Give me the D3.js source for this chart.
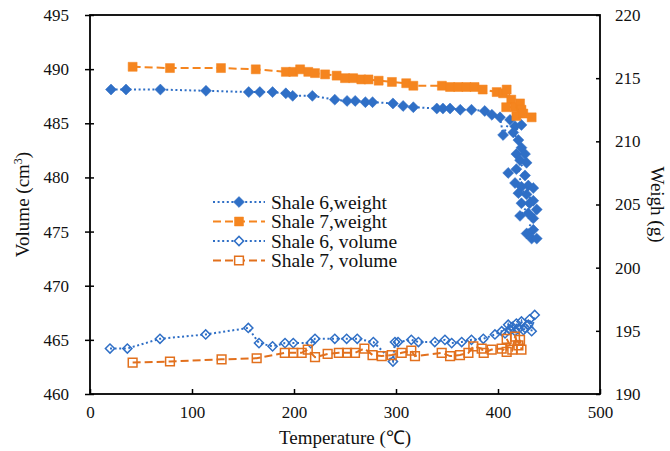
<!DOCTYPE html>
<html>
<head>
<meta charset="utf-8">
<script src="https://cdn.jsdelivr.net/npm/d3@7"></script>
<style>
  body { margin: 0; background: #fff; }
  svg { display: block; }
  text { font-family: "Liberation Serif", "Times New Roman", serif; fill: #111; }
</style>
</head>
<body>
<div id="chart"></div>
<script>
// temperature (°C) and weight (g) for shale 6
const shale6WeightT = [20.6, 35.3, 69, 113.7, 155.6, 166.5, 179, 192, 198.7, 218, 240, 252, 260, 270, 277, 297, 307, 317, 340, 346, 353, 363, 374, 387, 394, 402, 405, 411.8, 416.7, 423, 415, 420, 423, 418, 426.5, 421.6, 428, 410, 418, 426.5, 416.7, 423, 429.7, 434.6, 420, 428, 434.6, 423, 431, 421.6, 429.7, 434.6, 438, 428, 434.6, 433, 438];
const shale6WeightG = [214.1, 214.1, 214.1, 214.0, 213.9, 213.9, 213.9, 213.8, 213.6, 213.6, 213.3, 213.2, 213.2, 213.1, 213.1, 213.0, 212.8, 212.7, 212.6, 212.6, 212.6, 212.5, 212.5, 212.4, 212.1, 211.9, 210.5, 211.7, 211.2, 211.3, 210.7, 210.1, 209.5, 209.0, 209.0, 208.5, 208.3, 207.5, 207.8, 207.3, 206.7, 206.4, 206.5, 206.3, 205.9, 205.8, 205.3, 205.1, 205.1, 204.1, 204.3, 203.9, 204.6, 202.7, 203.0, 202.3, 202.3];

// temperature and weight for shale 7
const shale7WeightT = [41.8, 78.4, 128.4, 162.5, 192, 199.3, 206, 214, 220.6, 230.5, 241.8, 250, 258, 266, 273, 283, 296, 310, 317, 345, 353, 361, 369, 377, 385, 398.7, 405, 408.5, 413, 408, 416.7, 421.6, 423, 418, 424.8, 433];
const shale7WeightG = [215.9, 215.8, 215.8, 215.7, 215.5, 215.5, 215.7, 215.5, 215.4, 215.3, 215.2, 215.0, 215.0, 214.9, 214.9, 214.8, 214.7, 214.6, 214.4, 214.4, 214.3, 214.3, 214.3, 214.3, 214.1, 213.9, 213.8, 214.1, 213.3, 212.7, 212.7, 213.0, 212.5, 212.0, 212.2, 211.9];

// temperature and volume (cm3) for shale 6
const shale6VolT = [19.6, 36.6, 68.6, 113.4, 155.2, 165.7, 179, 191.2, 199.3, 216.4, 220.6, 240, 251.6, 262, 277.8, 297, 299, 302, 315, 322, 338, 348, 354.6, 364.4, 374, 385.6, 397, 403.6, 406.9, 410, 412, 414, 416.7, 418, 420, 423, 425, 426.5, 429.7, 431, 433, 436];
const shale6VolV = [464.2, 464.2, 465.1, 465.5, 466.1, 464.7, 464.4, 464.7, 464.7, 464.7, 465.1, 465.1, 465.1, 465.1, 464.8, 463.0, 464.8, 464.8, 465.0, 464.8, 464.8, 465.0, 464.7, 464.8, 465.0, 465.1, 465.5, 465.8, 465.6, 466.4, 465.9, 466.2, 465.8, 466.5, 466.0, 466.7, 465.9, 466.1, 466.4, 466.9, 465.8, 467.3];

// temperature and volume for shale 7
const shale7VolT = [41.8, 78.4, 129, 163.4, 191, 199.3, 207.5, 213.5, 220.6, 233, 244, 252, 259.8, 269, 277, 286, 295.8, 305.6, 315, 318.6, 344.8, 353, 362.7, 371, 375.8, 384, 386, 393.8, 403.6, 408.5, 408.5, 414, 416.7, 420, 421.6, 423];
const shale7VolV = [462.9, 463.0, 463.2, 463.3, 463.8, 463.8, 463.8, 464.1, 463.4, 463.7, 463.8, 463.8, 463.8, 464.2, 463.6, 463.5, 463.6, 463.8, 464.0, 463.5, 463.8, 463.5, 463.6, 463.8, 464.4, 464.2, 463.8, 464.1, 464.2, 463.9, 465.1, 464.1, 465.3, 464.5, 465.0, 464.1];

const xTicks = [0, 100, 200, 300, 400, 500];
const volTicks = [460, 465, 470, 475, 480, 485, 490, 495];
const weightTicks = [190, 195, 200, 205, 210, 215, 220];

const W = 670, H = 451;
const m = {left: 90, right: 600, top: 15, bottom: 394};

const svg = d3.select('#chart').append('svg').attr('width', W).attr('height', H);

const x = d3.scaleLinear().domain([0, 500]).range([m.left, m.right]);
const yL = d3.scaleLinear().domain([460, 495]).range([m.bottom, m.top]);
const yR = d3.scaleLinear().domain([190, 220]).range([m.bottom, m.top]);

const blue = '#2f6fc6', orange = '#f5851f', orangeDark = '#e2701d';

const series = [
  {name: 'Shale 6,weight', t: shale6WeightT, v: shale6WeightG, y: yR, color: blue, dash: '2,2.6', shape: 'diamond', filled: true},
  {name: 'Shale 7,weight', t: shale7WeightT, v: shale7WeightG, y: yR, color: orange, dash: '8,4', shape: 'square', filled: true},
  {name: 'Shale 6, volume', t: shale6VolT, v: shale6VolV, y: yL, color: blue, dash: '2,2.6', shape: 'diamond', filled: false},
  {name: 'Shale 7, volume', t: shale7VolT, v: shale7VolV, y: yL, color: orangeDark, dash: '8,4', shape: 'square', filled: false}
];

function symbolPath(shape, filled){
  if(shape === 'diamond') return d3.symbol(d3.symbolSquare, filled ? 60 : 42)();
  return d3.symbol(d3.symbolSquare, filled ? 81 : 76)();
}

// draw volume series first, weight on top
[series[2], series[3], series[0], series[1]].forEach(s => {
  const pts = s.t.map((t, i) => [t, s.v[i]]);
  const line = d3.line().x(d => x(d[0])).y(d => s.y(d[1]));
  svg.append('path')
    .attr('d', line(pts))
    .attr('fill', 'none')
    .attr('stroke', s.color)
    .attr('stroke-width', 2)
    .attr('stroke-dasharray', s.dash);
  svg.append('g').selectAll('path')
    .data(pts)
    .enter().append('path')
      .attr('d', symbolPath(s.shape, s.filled))
      .attr('transform', d => `translate(${x(d[0])},${s.y(d[1])})` + (s.shape === 'diamond' ? ' rotate(45)' : ''))
      .attr('fill', s.filled ? s.color : '#fff')
      .attr('fill-opacity', s.filled ? 1 : 0)
      .attr('stroke', s.color)
      .attr('stroke-width', s.filled ? 0.5 : 1.5);
});

// frame
svg.append('rect')
  .attr('x', m.left).attr('y', m.top)
  .attr('width', m.right - m.left).attr('height', m.bottom - m.top)
  .attr('fill', 'none').attr('stroke', '#000').attr('stroke-width', 1.8);

// axes
const xAxis = svg.append('g')
  .attr('transform', `translate(0,${m.bottom})`)
  .call(d3.axisBottom(x).tickValues(xTicks).tickSizeInner(-5).tickSizeOuter(0).tickPadding(12));
const lAxis = svg.append('g')
  .attr('transform', `translate(${m.left},0)`)
  .call(d3.axisLeft(yL).tickValues(volTicks).tickSizeInner(5).tickSizeOuter(0).tickPadding(16));
const rAxis = svg.append('g')
  .attr('transform', `translate(${m.right},0)`)
  .call(d3.axisRight(yR).tickValues(weightTicks).tickSizeInner(-4).tickSizeOuter(0).tickPadding(15));

[xAxis, lAxis, rAxis].forEach(a => {
  a.select('.domain').remove();
  a.selectAll('line').attr('stroke', '#000').attr('stroke-width', 1.5);
  a.selectAll('text').attr('font-size', 17).attr('fill', '#111')
    .attr('font-family', '"Liberation Serif", "Times New Roman", serif');
});
// left ticks cross the axis
lAxis.selectAll('.tick line').attr('x1', 4);

// axis titles
svg.append('text')
  .attr('x', (m.left + m.right) / 2).attr('y', 444)
  .attr('text-anchor', 'middle').attr('font-size', 19)
  .text('Temperature (℃)');

const vl = svg.append('text')
  .attr('transform', `translate(29,${(m.top + m.bottom) / 2}) rotate(-90)`)
  .attr('text-anchor', 'middle').attr('font-size', 19);
vl.append('tspan').text('Volume (cm');
vl.append('tspan').text('3').attr('font-size', 12).attr('dy', -7);
vl.append('tspan').text(')').attr('dy', 7);

svg.append('text')
  .attr('transform', `translate(651,${(m.top + m.bottom) / 2}) rotate(90)`)
  .attr('text-anchor', 'middle').attr('font-size', 19)
  .text('Weigh (g)');

// legend
const legend = svg.append('g');
series.forEach((s, i) => {
  const yy = 202 + i * 19.5;
  legend.append('line')
    .attr('x1', 213).attr('x2', 265).attr('y1', yy).attr('y2', yy)
    .attr('stroke', s.color).attr('stroke-width', 2).attr('stroke-dasharray', s.dash);
  legend.append('path')
    .attr('d', symbolPath(s.shape, s.filled))
    .attr('transform', `translate(239,${yy})` + (s.shape === 'diamond' ? ' rotate(45)' : ''))
    .attr('fill', s.filled ? s.color : '#fff')
    .attr('stroke', s.color)
    .attr('stroke-width', s.filled ? 0.5 : 1.5);
  legend.append('text')
    .attr('x', 271).attr('y', yy + 6.5)
    .attr('font-size', 19.5)
    .text(s.name);
});
</script>
</body>
</html>
